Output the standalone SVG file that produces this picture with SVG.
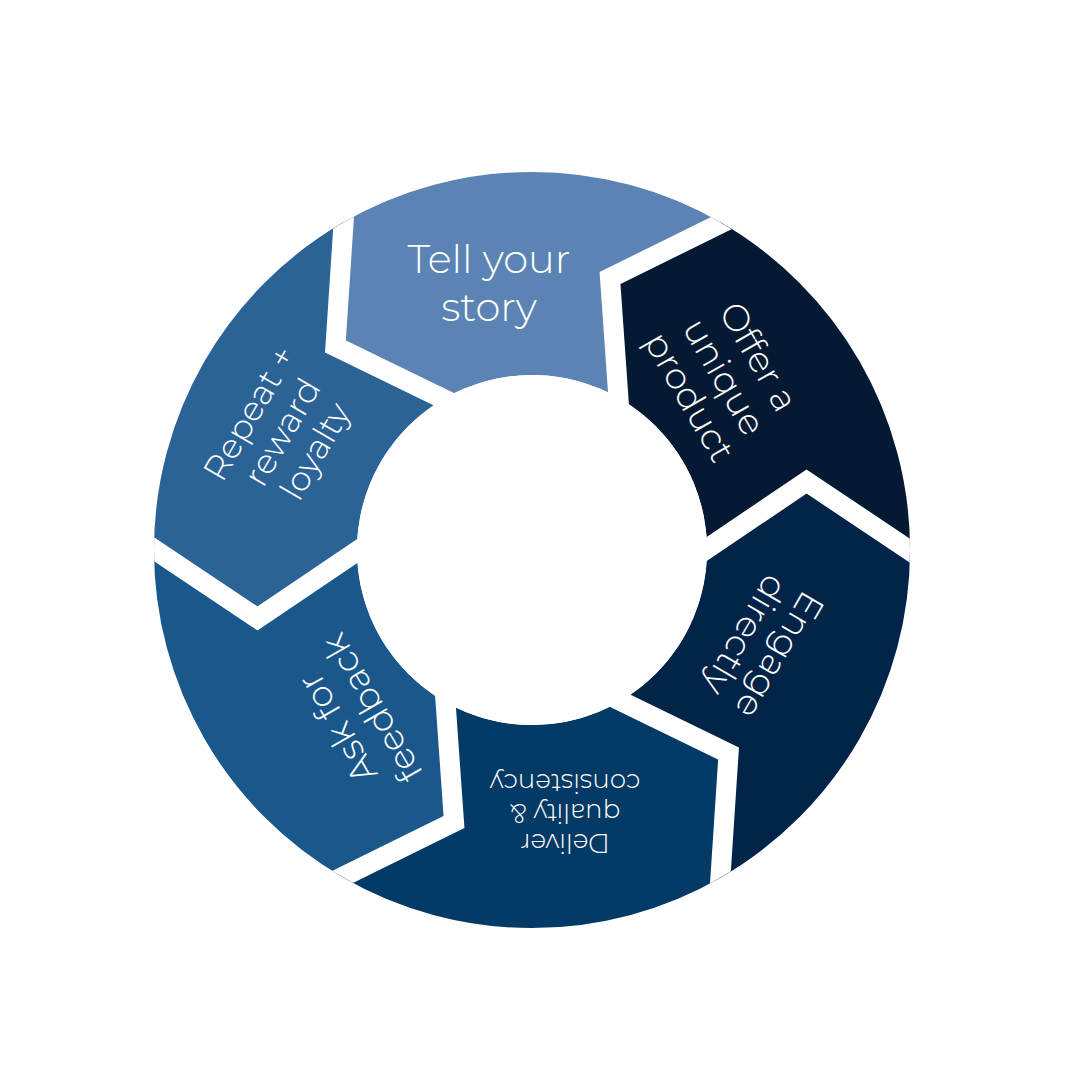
<svg xmlns="http://www.w3.org/2000/svg" width="1080" height="1080" viewBox="0 0 1080 1080">
<defs>
<style>
.t{font-family:"Montserrat","Lato","Open Sans",sans-serif;font-weight:300;fill:#fff;text-anchor:middle}
.gap{fill:none;stroke:#fff;stroke-width:20;stroke-linejoin:miter}
</style>
<clipPath id="ring"><circle cx="0" cy="0" r="378"/></clipPath>
<path id="seg" d="M-189,-327.4 A378,378 0 0 1 189,-327.4 L78,-272 L87.5,-151.6 A175,175 0 0 0 -87.5,-151.6 L-196.6,-203.6 Z"/>
<path id="bd" d="M220,-342 L78,-272 L88,-130"/>
</defs>
<rect width="1080" height="1080" fill="#fff"/>
<g transform="translate(532,550)">
<g id="tell"><use href="#seg" fill="#5b84b4"/></g>
<g id="offer"><use href="#seg" fill="#041a33" transform="rotate(60)"/></g>
<g id="engage"><use href="#seg" fill="#022448" transform="rotate(120)"/></g>
<g id="deliver"><use href="#seg" fill="#033a66" transform="rotate(180)"/></g>
<g id="ask"><use href="#seg" fill="#1a578b" transform="rotate(240)"/></g>
<g id="repeat"><use href="#seg" fill="#2b6397" transform="rotate(300)"/></g>
<g id="connectors" clip-path="url(#ring)">
<use href="#bd" class="gap"/>
<use href="#bd" class="gap" transform="rotate(60)"/>
<use href="#bd" class="gap" transform="rotate(120)"/>
<use href="#bd" class="gap" transform="rotate(180)"/>
<use href="#bd" class="gap" transform="rotate(240)"/>
<use href="#bd" class="gap" transform="rotate(300)"/>
</g>
<circle r="175" fill="#fff"/>
</g>
<text class="t" font-size="40" transform="translate(489,285)"><tspan x="0" y="-12">Tell your</tspan><tspan x="0" y="36">story</tspan></text>
<text class="t" font-size="36" transform="translate(722,378) rotate(60)"><tspan x="0" y="-30">Offer a</tspan><tspan x="0" y="10">unique</tspan><tspan x="0" y="50">product</tspan></text>
<text class="t" font-size="36" transform="translate(762,645) rotate(120)"><tspan x="0" y="-8">Engage</tspan><tspan x="0" y="32">directly</tspan></text>
<text class="t" font-size="26" transform="translate(565,812) rotate(180)"><tspan x="0" y="-22">Deliver</tspan><tspan x="0" y="8">quality &amp;</tspan><tspan x="0" y="38">consistency</tspan></text>
<text class="t" font-size="36" transform="translate(355,718) rotate(240)"><tspan x="0" y="-8">Ask for</tspan><tspan x="0" y="32">feedback</tspan></text>
<text class="t" font-size="34" transform="translate(282,432) rotate(300)"><tspan x="0" y="-26">Repeat +</tspan><tspan x="0" y="12">reward</tspan><tspan x="0" y="50">loyalty</tspan></text>
</svg>
